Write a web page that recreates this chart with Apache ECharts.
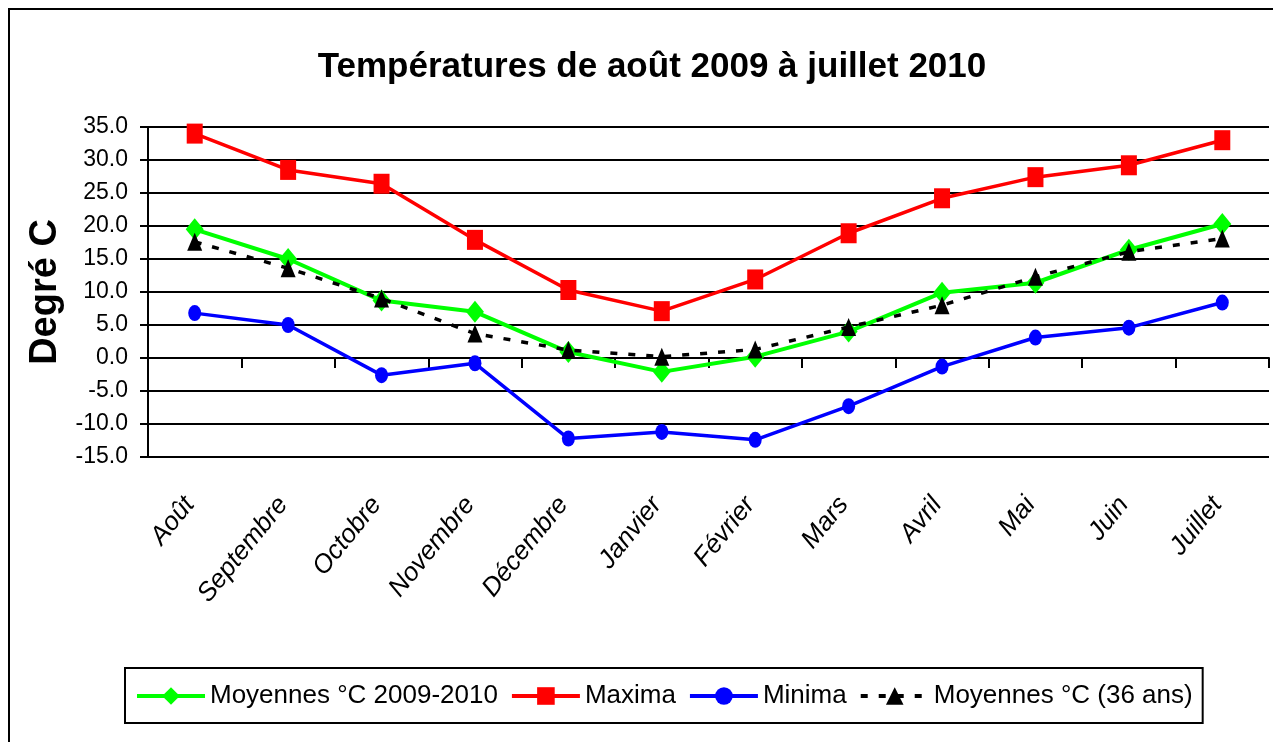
<!DOCTYPE html>
<html>
<head>
<meta charset="utf-8">
<script src="https://cdn.jsdelivr.net/npm/echarts@6/dist/echarts.min.js"></script>
<style>html,body{margin:0;padding:0;background:#fff;}#c{width:1273px;height:742px;}</style>
</head>
<body>
<div id="c"></div>
<script>
const months = ['Août','Septembre','Octobre','Novembre','Décembre','Janvier','Février','Mars','Avril','Mai','Juin','Juillet'];
const moyennes0910 = [19.5, 15.0, 8.7, 7.0, 0.9, -2.1, 0.2, 4.0, 9.9, 11.4, 16.4, 20.3];
const maxima = [34.0, 28.5, 26.4, 17.9, 10.3, 7.1, 11.9, 18.9, 24.2, 27.4, 29.2, 33.0];
const minima = [6.8, 5.0, -2.6, -0.8, -12.2, -11.2, -12.4, -7.3, -1.3, 3.1, 4.6, 8.4];
const moyennes36 = [17.6, 13.6, 9.0, 3.7, 1.2, 0.2, 1.3, 4.7, 8.0, 12.3, 16.1, 18.1];
const seriesNames = ['Moyennes °C 2009-2010', 'Maxima', 'Minima', 'Moyennes °C (36 ans)'];
const yMin = -15, yMax = 35, yStep = 5;

const REG = "'Liberation Sans', Arial, sans-serif";

const chart = echarts.init(document.getElementById('c'), null, {renderer: 'canvas'});
chart.setOption({
  backgroundColor: '#fff',
  animation: false,
  graphic: [{
    type: 'rect', shape: {x: 9, y: 9, width: 1400, height: 900},
    style: {fill: 'none', stroke: '#000', lineWidth: 2}, z: 0
  }],
  title: {
    text: 'Températures de août 2009 à juillet 2010',
    left: 647, top: 45, textAlign: 'center',
    textStyle: {fontFamily: REG, fontWeight: 'bold', fontSize: 35, color: '#000'}
  },
  legend: {
    left: 125, top: 668,
    padding: [15, 10, 14, 10],
    borderColor: '#000', borderWidth: 2,
    itemWidth: 68, itemHeight: 22, itemGap: 12,
    lineStyle: {width: 4},
    textStyle: {fontFamily: REG, fontSize: 26, color: '#000'},
    data: seriesNames
  },
  grid: {left: 148, right: 4, top: 127, bottom: 285, containLabel: false},
  xAxis: [{
    type: 'category', data: months, position: 'bottom', boundaryGap: true,
    axisLine: {show: false, onZero: false}, axisTick: {show: false},
    axisLabel: {rotate: 51, interval: 0, margin: 37, padding: [0, 8, 0, 0], fontFamily: REG, fontStyle: 'italic', fontSize: 26, color: '#000'}
  }, {
    type: 'category', data: months, position: 'top', boundaryGap: true,
    axisLine: {show: true, onZero: true, lineStyle: {color: '#000', width: 2}},
    axisTick: {show: true, inside: true, length: 10, lineStyle: {color: '#000', width: 2}},
    axisLabel: {show: false}
  }],
  yAxis: {
    type: 'value', min: yMin, max: yMax, interval: yStep,
    name: 'Degré C', nameLocation: 'middle', nameGap: 76, nameRotate: 90,
    nameTextStyle: {fontFamily: REG, fontWeight: 'bold', fontSize: 38, color: '#000'},
    axisLine: {show: true, lineStyle: {color: '#000', width: 2}},
    axisTick: {show: true, length: 8, lineStyle: {color: '#000', width: 2}},
    axisLabel: {margin: 20, fontFamily: REG, fontSize: 23, color: '#000', formatter: v => v.toFixed(1)},
    splitLine: {show: true, lineStyle: {color: '#000', width: 2}}
  },
  series: [{
    name: seriesNames[0], type: 'line', xAxisIndex: 0, data: moyennes0910,
    symbol: 'diamond', symbolSize: [18, 22],
    lineStyle: {color: '#00ff00', width: 4}, itemStyle: {color: '#00ff00'}, z: 2
  }, {
    name: seriesNames[1], type: 'line', xAxisIndex: 0, data: maxima,
    symbol: 'rect', symbolSize: [16, 20],
    lineStyle: {color: '#ff0000', width: 3.5}, itemStyle: {color: '#ff0000'}, z: 3
  }, {
    name: seriesNames[2], type: 'line', xAxisIndex: 0, data: minima,
    symbol: 'circle', symbolSize: [13, 16],
    lineStyle: {color: '#0000ff', width: 3.5}, itemStyle: {color: '#0000ff'}, z: 4
  }, {
    name: seriesNames[3], type: 'line', xAxisIndex: 0, data: moyennes36,
    symbol: 'triangle', symbolSize: [15, 18],
    lineStyle: {color: '#000', width: 3.5, type: [7, 11]}, itemStyle: {color: '#000'}, z: 5
  }]
});
</script>
</body>
</html>
